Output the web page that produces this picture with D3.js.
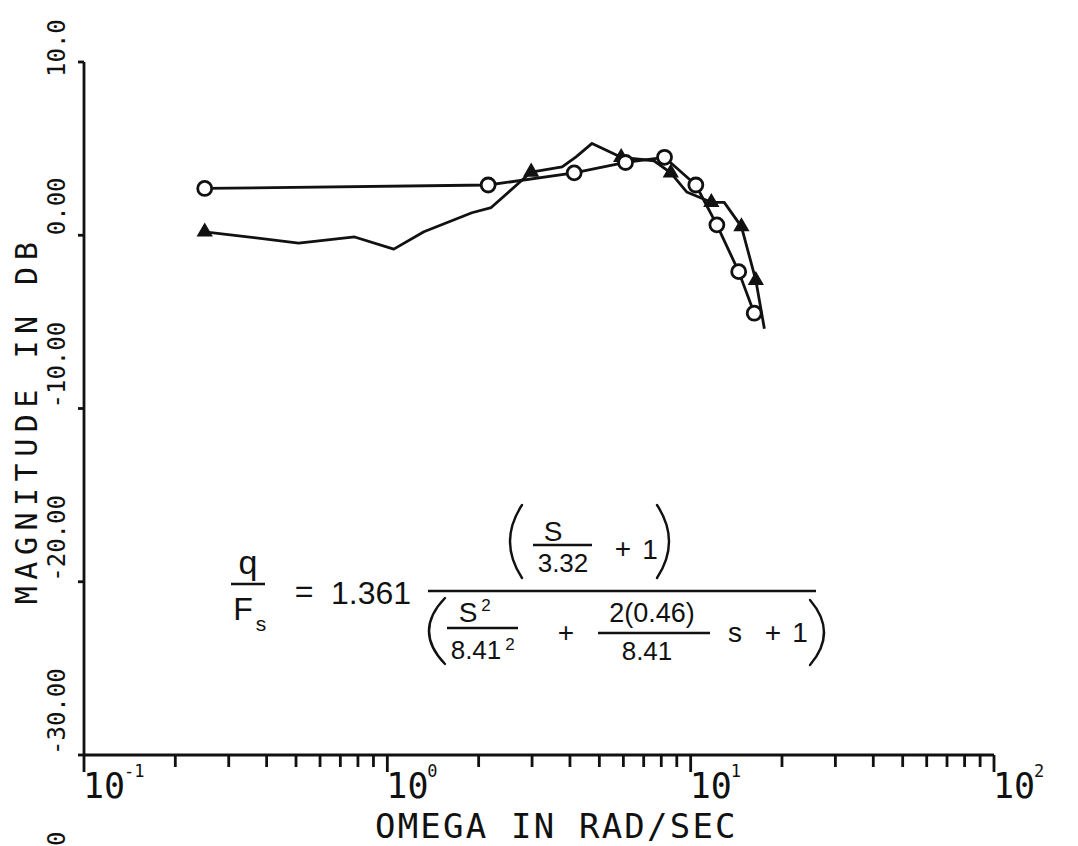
<!DOCTYPE html>
<html>
<head>
<meta charset="utf-8">
<script src="https://cdn.jsdelivr.net/npm/d3@7"></script>
<style>
body { margin: 0; background: #fff; }
</style>
</head>
<body>
<div id="svgcontainer"></div>
<script>
// measured points, circle symbols on every point
const circOmega = [0.25, 2.15, 4.13, 6.1, 8.2, 10.4, 12.2, 14.4, 16.2];
const circDb = [2.7, 2.9, 3.6, 4.2, 4.5, 2.9, 0.6, -2.1, -4.5];

// second curve, triangle symbols only on some points
const triOmega = [0.25, 0.51, 0.78, 1.05, 1.32, 1.9, 2.2, 2.98, 3.77, 4.19, 4.73, 5.9, 7.57, 8.6, 9.7, 11.7, 12.9, 14.7, 16.4, 17.5];
const triDb = [0.2, -0.45, -0.1, -0.8, 0.2, 1.3, 1.6, 3.65, 3.94, 4.52, 5.3, 4.5, 4.3, 3.6, 2.5, 1.9, 1.9, 0.5, -2.6, -5.4];
const triMarked = [1, 0, 0, 0, 0, 0, 0, 1, 0, 0, 0, 1, 0, 1, 0, 1, 0, 1, 1, 0];

const yTicks = [10, 0, -10, -20, -30];
const yTickLabels = ["10.0", "0.00", "-10.00", "-20.00", "-30.00"];
const xDecades = [0.1, 1, 10, 100];
const xExponents = ["-1", "0", "1", "2"];

const xTitle = "OMEGA IN RAD/SEC";
const yTitle = "MAGNITUDE IN DB";

const ink = "#111";
const mono = "'DejaVu Sans Mono', monospace";
const hand = "'Liberation Sans', 'DejaVu Sans', sans-serif";

var svg = d3.select("#svgcontainer")
    .append("svg")
    .attr("width", 1078)
    .attr("height", 846)

var x = d3.scaleLog().domain([0.1, 100]).range([84, 994]);
var y = d3.scaleLinear().domain([-30, 10]).range([755, 62]);

var main_g = svg.append('g')
    .attr('stroke', ink)
    .attr('fill', 'none')
    .attr('stroke-width', 2.8)

//START axes
let x0 = x.range()[0];
main_g.append('line').attr('x1', x0).attr('x2', x0).attr('y1', y(10)).attr('y2', y(-30) + 17)
main_g.append('line').attr('x1', x0).attr('x2', x(100)).attr('y1', y(-30)).attr('y2', y(-30))

// y ticks: short stubs to the left
main_g.selectAll('line.yt').data(yTicks).join('line')
    .attr('class', 'yt')
    .attr('x1', x0 - 6).attr('x2', x0)
    .attr('y1', d => y(d)).attr('y2', d => y(d))

// x ticks from the log scale, decades longer
let isDecade = d => Math.abs(Math.log10(d) - Math.round(Math.log10(d))) < 1e-6;
main_g.selectAll('line.xt').data(x.ticks().filter(d => d > 0.1)).join('line')
    .attr('class', 'xt')
    .attr('x1', d => x(d)).attr('x2', d => x(d))
    .attr('y1', y(-30)).attr('y2', d => y(-30) + (isDecade(d) ? 17 : 12))
//END axes

//START labels
let lab_g = svg.append('g').attr('fill', ink).attr('font-family', mono)

lab_g.selectAll('text.yl').data(yTicks).join('text')
    .attr('class', 'yl')
    .attr('font-size', 24)
    .attr('transform', (d, i) => `translate(65, ${y(d) + (i == 0 ? 15 : 0)}) rotate(-90)`)
    .text((d, i) => yTickLabels[i])

// stray label at the bottom edge
lab_g.append('text').attr('font-size', 24)
    .attr('transform', 'translate(65, 846) rotate(-90)').text('0')

let dec = lab_g.selectAll('g.xl').data(xDecades).join('g')
    .attr('class', 'xl')
    .attr('transform', d => `translate(${x(d) - 1}, 798)`)
dec.append('text').attr('font-size', 35).text('10')
dec.append('text').attr('font-size', 17).attr('x', 41).attr('y', -21)
    .text((d, i) => xExponents[i])

lab_g.append('text')
    .attr('font-size', 34).attr('letter-spacing', 2.2)
    .attr('x', 375).attr('y', 838)
    .text(xTitle)

lab_g.append('text')
    .attr('font-size', 30).attr('letter-spacing', 6.5)
    .attr('text-anchor', 'middle')
    .attr('transform', 'translate(37, 420) rotate(-90)')
    .text(yTitle)
//END labels

//START curves
let line = d3.line().x(d => x(d[0])).y(d => y(d[1]))
let circPts = circOmega.map((w, i) => [w, circDb[i]])
let triPts = triOmega.map((w, i) => [w, triDb[i]])

main_g.append('path').attr('d', line(triPts)).attr('stroke-linejoin', 'round')
main_g.append('path').attr('d', line(circPts)).attr('stroke-linejoin', 'round')

svg.append('g').selectAll('path').data(triPts.filter((p, i) => triMarked[i])).join('path')
    .attr('d', d3.symbol(d3.symbolTriangle, 115))
    .attr('transform', d => `translate(${x(d[0])}, ${y(d[1])})`)
    .attr('fill', ink)

svg.append('g').selectAll('circle').data(circPts).join('circle')
    .attr('cx', d => x(d[0])).attr('cy', d => y(d[1])).attr('r', 7)
    .attr('fill', '#fff').attr('stroke', ink).attr('stroke-width', 2.8)
//END curves

//START equation (hand written in the original)
let eq = svg.append('g').attr('fill', ink).attr('font-family', hand)
let bar = (x1, x2, yy) => eq.append('line').attr('x1', x1).attr('x2', x2).attr('y1', yy).attr('y2', yy)
    .attr('stroke', ink).attr('stroke-width', 2.4)
let txt = (s, xx, yy, fs, anchor) => eq.append('text').attr('x', xx).attr('y', yy)
    .attr('font-size', fs).attr('text-anchor', anchor || 'start').text(s)
function paren(xx, y0, y1, side, bulge) {
    let p = d3.path();
    p.moveTo(xx, y0);
    p.quadraticCurveTo(xx + side * bulge, (y0 + y1) / 2, xx, y1);
    eq.append('path').attr('d', p.toString()).attr('fill', 'none')
        .attr('stroke', ink).attr('stroke-width', 2.4).attr('stroke-linecap', 'round')
}

txt('q', 248, 574, 34, 'middle')
bar(231, 265, 584)
txt('F', 243, 620, 32, 'middle')
txt('s', 261, 631, 21, 'middle')
txt('=', 304, 602, 32, 'middle')
txt('1.361', 331, 604, 32)

// numerator
paren(522, 505, 578, -1, 24)
txt('S', 553, 541, 28, 'middle')
bar(533, 592, 545)
txt('3.32', 563, 572, 26, 'middle')
txt('+', 623, 558, 28, 'middle')
txt('1', 650, 559, 28, 'middle')
paren(657, 505, 578, 1, 24)

bar(428, 816, 591)

// denominator
paren(445, 598, 664, -1, 32)
txt('S', 468, 622, 28, 'middle')
txt('2', 486, 611, 17, 'middle')
bar(447, 518, 628)
txt('8.41', 476, 659, 26, 'middle')
txt('2', 510, 650, 17, 'middle')
txt('+', 566, 642, 28, 'middle')
txt('2(0.46)', 652, 622, 27, 'middle')
bar(598, 710, 633)
txt('8.41', 647, 660, 26, 'middle')
txt('s', 735, 642, 28, 'middle')
txt('+', 773, 642, 28, 'middle')
txt('1', 800, 642, 28, 'middle')
paren(810, 600, 665, 1, 28)
//END equation
</script>
</body>
</html>
